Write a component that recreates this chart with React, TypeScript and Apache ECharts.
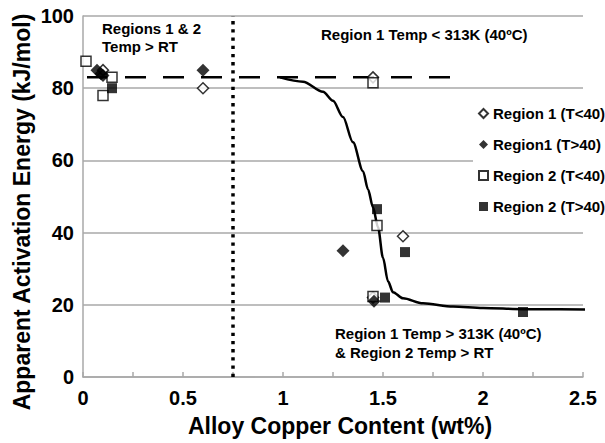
import React, { useEffect, useRef } from "react";
import * as echarts from "echarts";

// Measured activation energies (x: wt% Cu, y: kJ/mol)
const region1Below40: number[][] = [
  [0.1, 85], [0.6, 80], [1.45, 83], [1.6, 39], [1.45, 22],
];
const region1Above40: number[][] = [
  [0.07, 85], [0.09, 84], [0.1, 83.5], [0.6, 85], [1.3, 35], [1.455, 21],
];
const region2Below40: number[][] = [
  [0.015, 87.5], [0.145, 83], [0.1, 78], [1.45, 81.5], [1.47, 42], [1.45, 22.3],
];
const region2Above40: number[][] = [
  [0.145, 80], [1.47, 46.5], [1.61, 34.6], [1.51, 22], [2.2, 18],
];

// Fitted transition curve
const fitCurve: number[][] = [
  [0.985, 83], [1.1, 81.8], [1.2, 79], [1.25, 76.5], [1.3, 72], [1.35, 65],
  [1.4, 57], [1.425, 52], [1.45, 47], [1.475, 41.5], [1.5, 33], [1.525, 26.5],
  [1.55, 23.5], [1.6, 21.8], [1.7, 20.4], [1.85, 19.5], [2.0, 19.1],
  [2.2, 18.8], [2.62, 18.7],
];

// Plateau level and the region boundary
const plateauLevel = 83;
const plateauSpan = [0.02, 1.87];
const boundaryCu = 0.75;

const xTicks = { min: 0, max: 2.5, step: 0.25 };
const yTicks = { min: 0, max: 100, step: 20 };

const seriesNames = [
  "Region 1 (T<40)",
  "Region1 (T>40)",
  "Region 2 (T<40)",
  "Region 2 (T>40)",
];

const FONT = "'Liberation Sans', Arial, Helvetica, sans-serif";
const GRID_GREY = "#a8a8a8";

export default function App() {
  const ref = useRef<HTMLDivElement>(null);

  useEffect(() => {
    if (!ref.current) return;
    const chart = echarts.init(ref.current, null, { renderer: "svg" });

    const hollow = { color: "#ffffff", borderColor: "#000000", borderWidth: 1.5 };
    const solid = { color: "#000000", borderColor: "#000000", borderWidth: 0 };

    const annot = (text: string, x: number, y: number) => ({
      type: "text",
      x,
      y,
      style: {
        text,
        fontFamily: FONT,
        fontWeight: "bold",
        fontSize: 15,
        fill: "#000",
        verticalAlign: "middle",
        align: "left",
      },
      z: 10,
    });

    chart.setOption({
      animation: false,
      backgroundColor: "#ffffff",
      textStyle: { fontFamily: FONT },
      grid: { left: 83, top: 16, right: 22, bottom: 66, containLabel: false },
      xAxis: {
        type: "value",
        min: xTicks.min,
        max: xTicks.max,
        interval: xTicks.step,
        axisLine: { show: true, lineStyle: { color: GRID_GREY, width: 1.5 } },
        axisTick: { show: true, inside: true, length: 5, lineStyle: { color: GRID_GREY, width: 1.5 } },
        splitLine: { show: false },
        axisLabel: {
          color: "#000",
          fontFamily: FONT,
          fontWeight: "bold",
          fontSize: 20,
          margin: 11,
          formatter: (v: number) =>
            Math.abs(v * 2 - Math.round(v * 2)) < 1e-6 ? String(v) : "",
        },
        name: "Alloy Copper Content (wt%)",
        nameLocation: "middle",
        nameGap: 37,
        nameTextStyle: {
          color: "#000",
          fontFamily: FONT,
          fontWeight: "bold",
          fontSize: 23,
          padding: [0, 0, 0, 14],
        },
      },
      yAxis: {
        type: "value",
        min: yTicks.min,
        max: yTicks.max,
        interval: yTicks.step,
        axisLine: { show: true, lineStyle: { color: GRID_GREY, width: 1.5 } },
        axisTick: { show: false },
        splitLine: { show: true, lineStyle: { color: GRID_GREY, width: 1.5 } },
        axisLabel: {
          color: "#000",
          fontFamily: FONT,
          fontWeight: "bold",
          fontSize: 20,
          margin: 9,
        },
      },
      legend: {
        data: seriesNames,
        orient: "vertical",
        left: 473,
        top: 101,
        padding: [4, 0, 4, 5],
        itemGap: 14,
        itemWidth: 9,
        itemHeight: 9,
        backgroundColor: "#ffffff",
        textStyle: {
          color: "#000",
          fontFamily: FONT,
          fontWeight: "bold",
          fontSize: 15,
          lineHeight: 17,
        },
      },
      graphic: [
        {
          type: "text",
          x: 22,
          y: 212,
          rotation: Math.PI / 2,
          style: {
            text: "Apparent Activation Energy (kJ/mol)",
            fontFamily: FONT,
            fontWeight: "bold",
            fontSize: 23,
            fill: "#000",
            align: "center",
            verticalAlign: "middle",
          },
        },
        annot("Regions 1 & 2", 102, 28),
        annot("Temp > RT", 102, 46),
        annot("Region 1 Temp < 313K (40ºC)", 321, 34),
        annot("Region 1 Temp > 313K (40ºC)", 335, 333),
        annot("& Region 2 Temp > RT", 335, 352),
      ],
      series: [
        {
          name: "boundary",
          type: "line",
          data: [[boundaryCu, yTicks.min], [boundaryCu, yTicks.max]],
          symbol: "none",
          silent: true,
          lineStyle: { color: "#000", width: 3.5, type: [3.3, 4.9] },
          z: 3,
        },
        {
          name: "plateau",
          type: "line",
          data: [[plateauSpan[0], plateauLevel], [plateauSpan[1], plateauLevel]],
          symbol: "none",
          silent: true,
          lineStyle: { color: "#000", width: 2.5, type: [21, 17] },
          z: 3,
        },
        {
          name: "fit",
          type: "line",
          data: fitCurve,
          symbol: "none",
          smooth: 0.3,
          smoothMonotone: "x",
          clip: false,
          silent: true,
          lineStyle: { color: "#000", width: 2.5 },
          z: 3,
        },
        {
          name: seriesNames[0],
          type: "scatter",
          symbol: "diamond",
          symbolSize: 11,
          data: region1Below40,
          itemStyle: hollow,
          z: 4,
        },
        {
          name: seriesNames[2],
          type: "scatter",
          symbol: "rect",
          symbolSize: 10,
          data: region2Below40,
          itemStyle: hollow,
          z: 4,
        },
        {
          name: seriesNames[1],
          type: "scatter",
          symbol: "diamond",
          symbolSize: 13,
          data: region1Above40,
          itemStyle: solid,
          z: 5,
        },
        {
          name: seriesNames[3],
          type: "scatter",
          symbol: "rect",
          symbolSize: 10,
          data: region2Above40,
          itemStyle: solid,
          z: 5,
        },
      ],
    });

    return () => chart.dispose();
  }, []);

  return (
    <div
      ref={ref}
      style={{ position: "fixed", left: 0, top: 0, width: 605, height: 443 }}
    />
  );
}
